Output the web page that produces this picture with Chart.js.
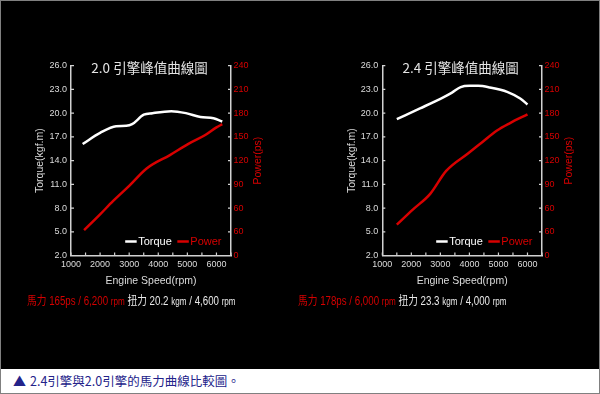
<!DOCTYPE html>
<html lang="zh-Hant">
<head>
  <meta charset="UTF-8">
  <title>2.4引擎與2.0引擎的馬力曲線比較圖</title>
  <script src="https://cdn.jsdelivr.net/npm/chart.js"></script>
  <style>
    html, body {
      margin: 0;
      padding: 0;
    }
    body {
      width: 600px;
      height: 394px;
      position: relative;
      background: #fff;
      font-family: 'Liberation Sans', Arial, sans-serif;
      overflow: hidden;
    }
    .frame {
      position: absolute;
      left: 0;
      top: 0;
      width: 600px;
      height: 394px;
      box-sizing: border-box;
      border: 1px solid #808080;
    }
    .dark {
      position: absolute;
      left: 1px;
      top: 1px;
      width: 598px;
      height: 368px;
      background: #000;
    }
    canvas {
      position: absolute;
      top: 40px;
    }
    .spec {
      position: absolute;
      top: 292px;
      white-space: nowrap;
      color: #e8e8e8;
      font-family: 'Liberation Sans', Arial, sans-serif;
      font-size: 12px;
      line-height: 16px;
      transform: scaleX(0.81);
      transform-origin: 0 0;
    }
    .spec .red { color: #d40000; }
    .spec .cjk { font-family: 'Noto Sans CJK TC', sans-serif; font-size: 12px; }
    .spec small { font-size: 10px; }
    .caption {
      position: absolute;
      left: 13px;
      top: 369px;
      height: 24px;
      line-height: 24px;
      color: #23238a;
      font-family: 'Noto Sans CJK TC', sans-serif;
      font-size: 12.5px;
      white-space: nowrap;
    }
    .caption .tri { font-size: 13px; margin-right: 4px; }
  </style>
</head>
<body>
  <div class="frame"></div>
  <div class="dark"></div>
  <canvas id="chart20" width="300" height="260" style="left:0px"></canvas>
  <canvas id="chart24" width="300" height="260" style="left:300px"></canvas>

  <div class="spec" style="left:27px"><span class="red"><span class="cjk">馬力</span> 165ps / 6,200 <small>rpm</small></span> <span class="cjk">扭力</span> 20.2 <small>kgm</small> / 4,600 <small>rpm</small></div>
  <div class="spec" style="left:298px"><span class="red"><span class="cjk">馬力</span> 178ps / 6,000 <small>rpm</small></span> <span class="cjk">扭力</span> 23.3 <small>kgm</small> / 4,000 <small>rpm</small></div>

  <div class="caption"><span class="tri">▲</span>2.4引擎與2.0引擎的馬力曲線比較圖。</div>

  <script>
    // 2.0 engine
    const rpm20Torque = [1400, 2000, 2550, 2900, 3100, 3500, 3800, 4450, 4950, 5450, 5900, 6200];
    const torque20    = [16.1, 17.5, 18.35, 18.4, 18.6, 19.8, 20.0, 20.25, 20.0, 19.5, 19.35, 18.95];
    const rpm20Power  = [1450, 2000, 2450, 3000, 3600, 4400, 5050, 5600, 6000, 6200];
    const power20     = [32, 52, 69, 88, 110, 127, 141.5, 152, 162, 166];

    // 2.4 engine
    const rpm24Torque = [1500, 2300, 3100, 3400, 3700, 4000, 4300, 4700, 5300, 5750, 6000];
    const torque24    = [19.25, 20.6, 22.0, 22.6, 23.3, 23.45, 23.45, 23.25, 22.7, 21.85, 21.1];
    const rpm24Power  = [1500, 2050, 2650, 3200, 3950, 4450, 4950, 5400, 6000];
    const power24     = [39, 58, 78, 107, 129, 143.5, 158, 167.5, 178.5];

    // axes
    const xMarkValues    = [1000, 1500, 2000, 2500, 3000, 3500, 4000, 4500, 5000, 5500, 6000, 6500];
    const xLabelValues   = [1000, 2000, 3000, 4000, 5000, 6000];
    const torqueTicks    = [2, 5, 8, 11, 14, 17, 20, 23, 26];
    const torqueLabels   = ['2.0', '5.0', '8.0', '11.0', '14.0', '17.0', '20.0', '23.0', '26.0'];
    const powerTicks     = [0, 30, 60, 90, 120, 150, 180, 210, 240];
    const powerLabels    = ['0', '60', '60', '90', '120', '150', '180', '210', '240'];

    const AXIS_COLOR = '#d2d2d2';
    const TEXT_COLOR = '#dcdcdc';
    const POWER_COLOR = '#d80000';
    const SANS = "'Liberation Sans', Arial, sans-serif";

    Chart.defaults.font.family = SANS;

    const toPoints = (xs, ys) => xs.map((x, i) => ({ x: x, y: ys[i] }));

    // title, right axis title, inside legend and inward tick marks
    const decor = {
      id: 'decor',
      afterDraw(chart, args, opts) {
        const { ctx, chartArea: a, scales } = chart;
        ctx.save();

        ctx.strokeStyle = AXIS_COLOR;
        ctx.lineWidth = 1.2;
        ctx.beginPath();
        scales.x.ticks.forEach(t => {
          const px = scales.x.getPixelForValue(t.value);
          ctx.moveTo(px, a.bottom);
          ctx.lineTo(px, a.bottom - 3);
        });
        scales.y.ticks.forEach(t => {
          const py = scales.y.getPixelForValue(t.value);
          ctx.moveTo(a.left, py);
          ctx.lineTo(a.left + 3, py);
        });
        scales.y1.ticks.forEach(t => {
          const py = scales.y1.getPixelForValue(t.value);
          ctx.moveTo(a.right, py);
          ctx.lineTo(a.right - 3, py);
        });
        ctx.stroke();

        // chart title
        ctx.fillStyle = '#e4e4e4';
        ctx.font = "13.5px 'Noto Sans CJK TC', sans-serif";
        ctx.textAlign = 'center';
        ctx.textBaseline = 'middle';
        ctx.fillText(opts.title, (a.left + a.right) / 2 - 1.5, a.top + 2);

        // right axis title, reading upwards
        ctx.save();
        ctx.translate(a.right + 27.5, (a.top + a.bottom) / 2);
        ctx.rotate(-Math.PI / 2);
        ctx.fillStyle = POWER_COLOR;
        ctx.font = '10.5px ' + SANS;
        ctx.fillText('Power(ps)', 0, 0);
        ctx.restore();

        // legend inside the plot
        ctx.font = '11px ' + SANS;
        ctx.textAlign = 'left';
        const items = chart.data.datasets.map(d => ({ text: d.label, color: d.borderColor, w: ctx.measureText(d.label).width }));
        const lineW = 11.5, gap = 1.5, itemGap = 5.5;
        let total = 0;
        items.forEach((it, i) => { total += lineW + gap + it.w + (i ? itemGap : 0); });
        let x = a.right - 9.5 - total;
        const y = a.bottom - 14;
        items.forEach((it, i) => {
          if (i) x += itemGap;
          ctx.strokeStyle = it.color;
          ctx.lineWidth = 2.5;
          ctx.beginPath();
          ctx.moveTo(x, y);
          ctx.lineTo(x + lineW, y);
          ctx.stroke();
          x += lineW + gap;
          ctx.fillStyle = it.color;
          ctx.fillText(it.text, x, y);
          x += it.w;
        });

        ctx.restore();
      }
    };

    function makeChart(id, title, torqueData, powerData, padLeft, leftWidth, rightWidth) {
      const ctx = document.getElementById(id).getContext('2d');
      return new Chart(ctx, {
        type: 'line',
        data: {
          datasets: [
            {
              label: 'Torque',
              data: torqueData,
              borderColor: '#ffffff',
              borderWidth: 2.5,
              pointRadius: 0,
              cubicInterpolationMode: 'monotone',
              yAxisID: 'y'
            },
            {
              label: 'Power',
              data: powerData,
              borderColor: POWER_COLOR,
              borderWidth: 2.5,
              pointRadius: 0,
              cubicInterpolationMode: 'monotone',
              yAxisID: 'y1'
            }
          ]
        },
        options: {
          responsive: false,
          animation: false,
          layout: {
            padding: { left: padLeft, right: 0, top: 25.7, bottom: 12.7 }
          },
          plugins: {
            legend: { display: false },
            tooltip: { enabled: false },
            decor: { title: title }
          },
          scales: {
            x: {
              type: 'linear',
              min: 1000,
              max: 6500,
              afterBuildTicks: s => { s.ticks = xMarkValues.map(v => ({ value: v })); },
              afterFit: s => { s.height = 31.8; },
              grid: { display: false, drawTicks: false },
              border: { display: true, color: AXIS_COLOR, width: 1.5 },
              ticks: {
                autoSkip: false,
                maxRotation: 0,
                minRotation: 0,
                padding: 4,
                color: TEXT_COLOR,
                font: { family: SANS, size: 9 },
                callback: v => xLabelValues.includes(v) ? String(v) : ''
              },
              title: {
                display: true,
                text: 'Engine Speed(rpm)',
                color: TEXT_COLOR,
                padding: 0,
                font: { family: SANS, size: 10.5 }
              }
            },
            y: {
              position: 'left',
              min: 2,
              max: 26,
              afterBuildTicks: s => { s.ticks = torqueTicks.map(v => ({ value: v })); },
              afterFit: s => { s.width = leftWidth; },
              grid: { display: false, drawTicks: false },
              border: { display: true, color: AXIS_COLOR, width: 1.5 },
              ticks: {
                padding: 4,
                color: TEXT_COLOR,
                font: { family: SANS, size: 9 },
                callback: (v, i) => torqueLabels[i]
              },
              title: {
                display: true,
                text: 'Torque(kgf.m)',
                color: TEXT_COLOR,
                padding: 0,
                font: { family: SANS, size: 10.5 }
              }
            },
            y1: {
              position: 'right',
              min: 0,
              max: 240,
              afterBuildTicks: s => { s.ticks = powerTicks.map(v => ({ value: v })); },
              afterFit: s => { s.width = rightWidth; },
              grid: { display: false, drawTicks: false },
              border: { display: true, color: AXIS_COLOR, width: 1.5 },
              ticks: {
                padding: 2.5,
                color: POWER_COLOR,
                font: { family: SANS, size: 9 },
                callback: (v, i) => powerLabels[i]
              }
            }
          }
        },
        plugins: [decor]
      });
    }

    makeChart('chart20', '2.0 引擎峰值曲線圖',
      toPoints(rpm20Torque, torque20), toPoints(rpm20Power, power20), 33.7, 37.3, 69);
    makeChart('chart24', '2.4 引擎峰值曲線圖',
      toPoints(rpm24Torque, torque24), toPoints(rpm24Power, power24), 45.4, 36.9, 58);
  </script>
</body>
</html>
